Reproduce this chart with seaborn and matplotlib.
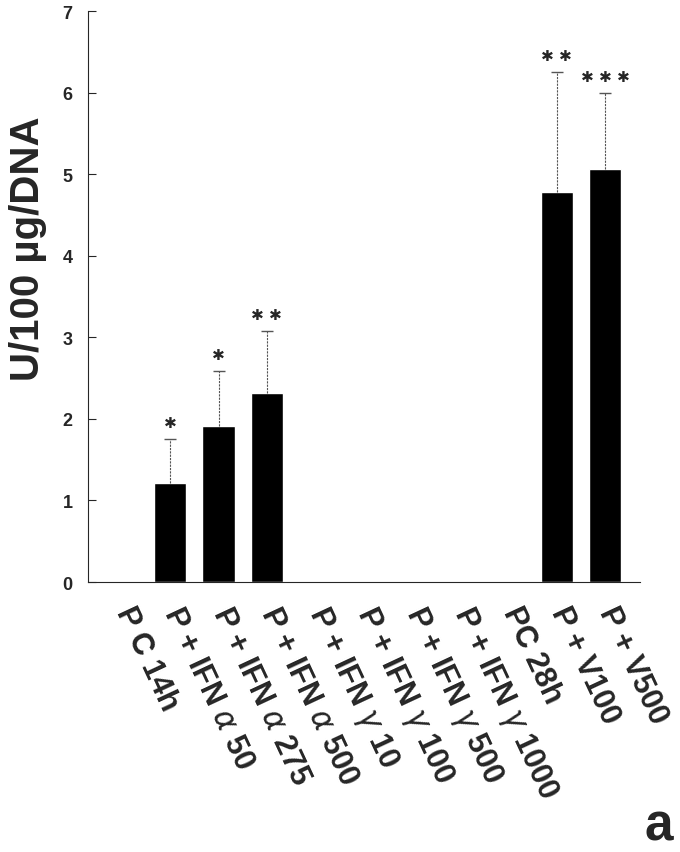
import numpy as np
import pandas as pd
import matplotlib
matplotlib.use('Agg')
import matplotlib.pyplot as plt
import matplotlib.transforms as mtransforms
import seaborn as sns

# data
groups = ['P C 14h', 'P + IFN $\\alpha$ 50', 'P + IFN $\\alpha$ 275', 'P + IFN $\\alpha$ 500',
          'P + IFN $\\gamma$ 10', 'P + IFN $\\gamma$ 100', 'P + IFN $\\gamma$ 500',
          'P + IFN $\\gamma$ 1000', 'PC 28h', 'P + V100', 'P + V500']
activity = [0, 1.21, 1.91, 2.32, 0, 0, 0, 0, 0, 4.78, 5.06]
sd = [0, 0.54, 0.68, 0.76, 0, 0, 0, 0, 0, 1.47, 0.94]
stars = ['', '✱', '✱', '✱ ✱', '', '', '', '', '', '✱ ✱', '✱ ✱ ✱']

df = pd.DataFrame({'group': groups, 'activity': activity})

sns.set_style('ticks')
plt.rcParams['font.family'] = ['Liberation Sans', 'DejaVu Sans']
plt.rcParams['font.weight'] = 'bold'
plt.rcParams['mathtext.fontset'] = 'custom'
plt.rcParams['mathtext.it'] = 'DejaVu Sans:italic:normal'
plt.rcParams['mathtext.rm'] = 'Liberation Sans:bold'

fig = plt.figure(figsize=(6.8, 8.53), dpi=100)
ax = fig.add_axes([0.1294, 0.3165, 0.8118, 0.6694])

sns.barplot(data=df, x='group', y='activity', color='black', width=0.67,
            saturation=1, errorbar=None, ax=ax)

x = np.arange(len(groups))
has = np.array(sd) > 0
eb = ax.errorbar(x[has], np.array(activity)[has],
                 yerr=[np.zeros(has.sum()), np.array(sd)[has]],
                 fmt='none', ecolor='#555555', elinewidth=0.8, capsize=4, capthick=1.0)
eb[2][0].set_linestyle((0, (2, 1)))
eb[1][0].set_visible(False)

for i in range(len(groups)):
    if stars[i]:
        ax.text(i, activity[i] + sd[i] + 0.2, stars[i], ha='center', va='center',
                fontsize=11, family=['DejaVu Sans'])

ax.set_xlim(-0.70, 10.72)
ax.set_ylim(0, 7)
ax.set_yticks(range(8))
ax.tick_params(axis='y', direction='in', length=6, width=0.8, labelsize=13, pad=11)
ax.tick_params(axis='x', length=0, pad=21)
ax.set_xticks(x)
ax.set_xticklabels(groups, rotation=-65, ha='left', va='baseline',
                   rotation_mode='anchor', fontsize=22, fontweight='bold')
shift = mtransforms.ScaledTranslation(-6 / 100, 0, fig.dpi_scale_trans)
for lab in ax.get_xticklabels():
    lab.set_transform(lab.get_transform() + shift)
ax.set_xlabel('')
ax.set_ylabel('U/100 µg/DNA', fontsize=29, fontweight='bold')
ax.yaxis.set_label_coords(-0.074, 0.585)
for s in ['top', 'right']:
    ax.spines[s].set_visible(False)
ax.spines['left'].set_linewidth(0.8)
ax.spines['bottom'].set_linewidth(0.8)

fig.text(0.99, 0.002, 'a', ha='right', va='bottom', fontsize=37, fontweight='bold')

fig.savefig('out.png', dpi=100)
